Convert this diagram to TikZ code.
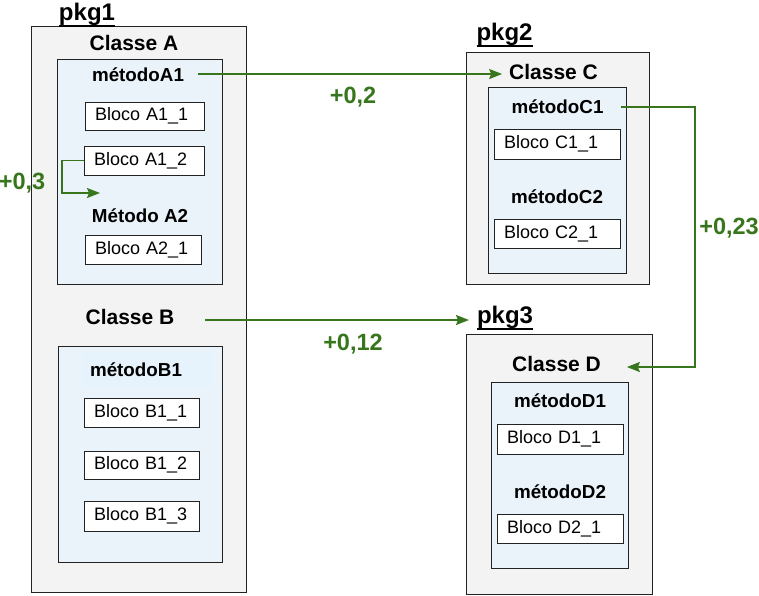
\documentclass[tikz,border=0pt]{standalone}
\usepackage{fontspec}
\setmainfont{Liberation Sans}
\usetikzlibrary{arrows.meta}
\definecolor{pkgfill}{HTML}{F3F3F3}
\definecolor{methfill}{HTML}{EBF3FA}
\definecolor{methhl}{HTML}{E7F3FC}
\definecolor{flow}{HTML}{38761D}
\definecolor{edge}{HTML}{222222}
\tikzset{
  pkgbox/.style={draw=edge, line width=0.8pt, fill=pkgfill, minimum width=#1},
  methbox/.style={draw=edge, line width=0.8pt, fill=methfill, minimum width=#1},
  blockbox/.style={draw=edge, line width=0.8pt, fill=white, inner xsep=10pt, inner ysep=0pt,
    text width=#1-20pt, align=left, font=\fontsize{18}{20}\selectfont},
  pkglabel/.style={font=\fontsize{24}{26}\selectfont\bfseries},
  classlabel/.style={font=\fontsize{21}{23}\selectfont\bfseries},
  methlabel/.style={font=\fontsize{18.8}{21}\selectfont\bfseries},
  flowlabel/.style={font=\fontsize{23.5}{26}\selectfont\bfseries, text=flow},
  flowline/.style={draw=flow, line width=1.6pt, -{Stealth[length=13pt, width=10pt, inset=2pt]}},
  uline/.style={line width=1.6pt, draw=black},
}
\begin{document}
\begin{tikzpicture}[x=1pt, y=-1pt, inner sep=0pt, outer sep=0pt]
\useasboundingbox (0,0) rectangle (759,595);

% ---- package boxes ----
\node[pkgbox=215pt, minimum height=566pt] (pkg1box) at (138.5,309) {};
\node[pkgbox=183pt, minimum height=232pt] (pkg2box) at (557.5,168) {};
\node[pkgbox=186pt, minimum height=260pt] (pkg3box) at (559,464) {};

% ---- method containers ----
\node[methbox=165pt, minimum height=225pt] (methA) at (139.5,171.5) {};
\node[methbox=164pt, minimum height=216pt] (methB) at (140,454) {};
\node[methbox=138pt, minimum height=186pt] (methC) at (557,180) {};
\node[methbox=137pt, minimum height=186pt] (methD) at (559.5,475) {};
\fill[methhl] (82,352) rectangle (212,388);

% ---- package names (underlined) ----
\node[pkglabel] (pkg1) at (87,14) {pkg1};
\node[pkglabel] (pkg2) at (504.5,34) {pkg2};
\node[pkglabel] (pkg3) at (505,317) {pkg3};
\foreach \p in {pkg1,pkg2,pkg3}
  \draw[uline] ([yshift=-6pt]\p.base west) -- ([yshift=-6pt]\p.base east);

% ---- class names ----
\node[classlabel] (clsA) at (134,43) {Classe A};
\node[classlabel] (clsB) at (130,317) {Classe B};
\node[classlabel] (clsC) at (553.5,72) {Classe C};
\node[classlabel] (clsD) at (556.5,364) {Classe D};

% ---- method names ----
\node[methlabel] (mA1) at (138,75) {métodoA1};
\node[methlabel] (mA2) at (140,216) {Método A2};
\node[methlabel] (mB1) at (136,370) {métodoB1};
\node[methlabel] (mC1) at (557.5,107) {métodoC1};
\node[methlabel] (mC2) at (557,197) {métodoC2};
\node[methlabel] (mD1) at (560,401) {métodoD1};
\node[methlabel] (mD2) at (560,492) {métodoD2};

% ---- code blocks ----
\node[blockbox=119pt, minimum height=28pt] (bA11) at (144.5,116) {Bloco A1\_1};
\node[blockbox=120pt, minimum height=29pt] (bA12) at (144,160.5) {Bloco A1\_2};
\node[blockbox=116pt, minimum height=29pt] (bA21) at (143,249.5) {Bloco A2\_1};
\node[blockbox=115pt, minimum height=29pt] (bB11) at (141.5,412.5) {Bloco B1\_1};
\node[blockbox=115pt, minimum height=28pt] (bB12) at (141.5,465) {Bloco B1\_2};
\node[blockbox=115pt, minimum height=30pt] (bB13) at (141.5,516) {Bloco B1\_3};
\node[blockbox=126pt, minimum height=30pt] (bC11) at (557,144) {Bloco C1\_1};
\node[blockbox=126pt, minimum height=29pt] (bC21) at (557,233.5) {Bloco C2\_1};
\node[blockbox=126pt, minimum height=30pt] (bD11) at (560,439) {Bloco D1\_1};
\node[blockbox=126pt, minimum height=29pt] (bD21) at (560,528.5) {Bloco D2\_1};

% ---- call weights ----
\node[flowlabel] (w03) at (22,183) {+0,3};
\node[flowlabel] (w02) at (353,97) {+0,2};
\node[flowlabel] (w012) at (353,344) {+0,12};
\node[flowlabel] (w023) at (729,228) {+0,23};

% ---- calls ----
\coordinate (a2in) at (100,193);
\draw[flowline] ([xshift=14pt]mA1.east |- 0,74) -- ([xshift=-7pt]clsC.west |- 0,74);
\draw[flowline] ([xshift=31pt]clsB.east |- 0,320) -- ([xshift=-8pt]pkg3.west |- 0,320);
\draw[flowline] ([xshift=18pt]mC1.east |- 0,107) -| (695,367) -- ([xshift=26pt]clsD.east |- 0,367);
\draw[flowline] (bA12.west) -- ++(-22,0) |- (a2in);
\end{tikzpicture}
\end{document}
